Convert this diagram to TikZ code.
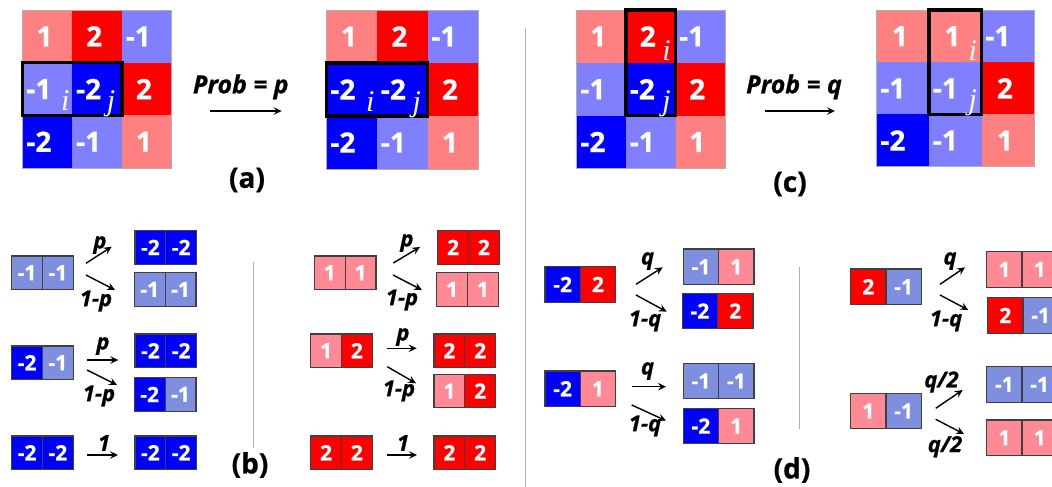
\documentclass[tikz,border=0pt]{standalone}
\usepackage{fontspec}
\setmainfont{Open Sans}[BoldFeatures={FakeBold=0.7},BoldItalicFeatures={FakeBold=0.7}]
\newfontfamily\sitefont{Liberation Serif}
\usetikzlibrary{positioning,calc,arrows.meta}
\definecolor{SpinRed}{RGB}{255,0,0}
\definecolor{SpinPink}{RGB}{255,128,128}
\definecolor{SpinBlue}{RGB}{0,0,255}
\definecolor{SpinLilac}{RGB}{128,128,255}
\definecolor{PairPink}{RGB}{255,138,150}
\definecolor{PairLilac}{RGB}{127,143,224}
\definecolor{EdgeGray}{RGB}{64,64,64}
\definecolor{RuleGray}{RGB}{175,175,175}
\tikzset{
	gcell/.style={inner sep=0pt,outer sep=0pt},
	gnum/.style={text=white,font=\fontsize{28}{28}\selectfont\bfseries,inner sep=0pt},
	gframe/.style={draw=RuleGray,line width=0.8pt},
	hbox/.style={draw=black,line width=3.5pt},
	site/.style={text=white,font=\fontsize{30}{30}\selectfont\sitefont\itshape,inner sep=0pt,anchor=base},
	bcell/.style={draw=EdgeGray,line width=1.2pt,text=white,outer sep=0pt,inner sep=0pt,
		minimum width=30.8pt,minimum height=33.4pt,font=\fontsize{21}{21}\selectfont\bfseries},
	dcell/.style={bcell,minimum width=35.3pt,minimum height=35.4pt},
	trans/.style={-{Stealth[length=8pt,width=7.5pt,inset=3pt]},line width=1.4pt},
	rate/.style={font=\fontsize{22}{22}\selectfont\bfseries\itshape,inner sep=0pt},
	prob/.style={font=\fontsize{25}{25}\selectfont\bfseries\itshape,inner sep=0pt,anchor=base},
	panel/.style={font=\fontsize{28}{28}\selectfont\bfseries,inner sep=0pt},
	divider/.style={draw=RuleGray,line width=1pt},
}
% 3x3 grid: name, x0, y0, cell width, cell height, col/row/colour/value
\newcommand\mgrid[6]{%
	\foreach \cx/\ry/\col/\val in {#6} {
		\node[gcell,fill=\col,minimum width=#4,minimum height=#5,anchor=north west]
			(#1-\cx\ry) at ($(#2,#3)+(\cx*#4,\ry*#5)$) {};
		\ifnum\val<0
			\node[gnum,anchor=west] (#1-t\cx\ry) at ([xshift=3.5pt]#1-\cx\ry.west) {\val};
		\else
			\node[gnum] (#1-t\cx\ry) at ([xshift=-3pt]#1-\cx\ry.center) {\val};
		\fi
	}
	\draw[gframe] (#1-00.north west) rectangle (#1-22.south east);
}
% two neighbouring spins: style, name, x, y, colour/value left, colour/value right
\newcommand\pair[8]{%
	\node[#1,fill=#5,anchor=north west] (#2l) at (#3,#4) {#6};
	\node[#1,fill=#7,right=0pt of #2l] (#2r) {#8};
}

\begin{document}
\begin{tikzpicture}[x=1pt,y=-1pt]
	\useasboundingbox (0,0) rectangle (1052,487);
	% (a) bond update
	\mgrid{aL}{22.7}{10}{49.7}{52.7}{0/0/SpinPink/1, 1/0/SpinRed/2, 2/0/SpinLilac/-1,
		0/1/SpinLilac/-1, 1/1/SpinBlue/-2, 2/1/SpinRed/2,
		0/2/SpinBlue/-2, 1/2/SpinLilac/-1, 2/2/SpinPink/1}
	\draw[hbox] (aL-01.north west) rectangle (aL-11.south east);
	\node[site] (aL-i) at ([xshift=-7pt,yshift=5pt]aL-01.south east) {i};
	\node[site] (aL-j) at ([xshift=-11pt,yshift=5pt]aL-11.south east) {j};
	\mgrid{aR}{326.7}{10}{50.5}{53}{0/0/SpinPink/1, 1/0/SpinRed/2, 2/0/SpinLilac/-1,
		0/1/SpinBlue/-2, 1/1/SpinBlue/-2, 2/1/SpinRed/2,
		0/2/SpinBlue/-2, 1/2/SpinLilac/-1, 2/2/SpinPink/1}
	\draw[hbox] (aR-01.north west) rectangle (aR-11.south east);
	\node[site] (aR-i) at ([xshift=-7pt,yshift=5pt]aR-01.south east) {i};
	\node[site] (aR-j) at ([xshift=-11pt,yshift=5pt]aR-11.south east) {j};
	\node[prob] (pa) at (240.8,93.3) {Prob = p};
	\coordinate (pa-s) at (210,111);
	\coordinate (pa-e) at (281.7,111);
	\draw[trans] (pa-s) -- (pa-e);
	\node[panel] (lab-a) at (247,180) {(a)};

	% (c) site update
	\mgrid{cL}{576.7}{10}{49.4}{52.8}{0/0/SpinPink/1, 1/0/SpinRed/2, 2/0/SpinLilac/-1,
		0/1/SpinLilac/-1, 1/1/SpinBlue/-2, 2/1/SpinRed/2,
		0/2/SpinBlue/-2, 1/2/SpinLilac/-1, 2/2/SpinPink/1}
	\draw[hbox] (cL-10.north west) rectangle (cL-11.south east);
	\node[site] (cL-i) at ([xshift=-9pt,yshift=2pt]cL-10.south east) {i};
	\node[site] (cL-j) at ([xshift=-9pt,yshift=5pt]cL-11.south east) {j};
	\mgrid{cR}{876.7}{10}{52.5}{52.2}{0/0/SpinPink/1, 1/0/SpinPink/1, 2/0/SpinLilac/-1,
		0/1/SpinLilac/-1, 1/1/SpinLilac/-1, 2/1/SpinRed/2,
		0/2/SpinBlue/-2, 1/2/SpinLilac/-1, 2/2/SpinPink/1}
	\draw[hbox] (cR-10.north west) rectangle (cR-11.south east);
	\node[site] (cR-i) at ([xshift=-9pt,yshift=2pt]cR-10.south east) {i};
	\node[site] (cR-j) at ([xshift=-9pt,yshift=5pt]cR-11.south east) {j};
	\node[prob] (pc) at (794,93.3) {Prob = q};
	\coordinate (pc-s) at (765,111);
	\coordinate (pc-e) at (835,111);
	\draw[trans] (pc-s) -- (pc-e);
	\node[panel] (lab-c) at (790,184) {(c)};

	% dividers
	\draw[divider] (525,28) -- (525,487);
	\draw[divider] (253,262) -- (253,448);
	\draw[divider] (799.3,266.7) -- (799.3,429.3);

	% (b) pairs, negative and positive
	\pair{bcell}{bS1}{11.7}{256}{PairLilac}{-1}{PairLilac}{-1}
	\pair{bcell}{bT1a}{135}{230.7}{SpinBlue}{-2}{SpinBlue}{-2}
	\pair{bcell}{bT1b}{134.3}{272.7}{PairLilac}{-1}{PairLilac}{-1}
	\pair{bcell}{bS2}{11.7}{346}{SpinBlue}{-2}{PairLilac}{-1}
	\pair{bcell}{bT2a}{135}{334}{SpinBlue}{-2}{SpinBlue}{-2}
	\pair{bcell}{bT2b}{134.3}{377.7}{SpinBlue}{-2}{PairLilac}{-1}
	\pair{bcell}{bS3}{11.7}{436}{SpinBlue}{-2}{SpinBlue}{-2}
	\pair{bcell}{bT3}{135}{436}{SpinBlue}{-2}{SpinBlue}{-2}
	\pair{bcell}{rS1}{314.3}{256}{PairPink}{1}{PairPink}{1}
	\pair{bcell}{rT1a}{437.7}{230.7}{SpinRed}{2}{SpinRed}{2}
	\pair{bcell}{rT1b}{436.7}{272.7}{PairPink}{1}{PairPink}{1}
	\pair{bcell}{rS2}{310.7}{334}{PairPink}{1}{SpinRed}{2}
	\pair{bcell}{rT2a}{434}{334}{SpinRed}{2}{SpinRed}{2}
	\pair{bcell}{rT2b}{434}{374.3}{PairPink}{1}{SpinRed}{2}
	\pair{bcell}{rS3}{310.7}{436}{SpinRed}{2}{SpinRed}{2}
	\pair{bcell}{rT3}{434}{436}{SpinRed}{2}{SpinRed}{2}
	\node[panel] (lab-b) at (250,465) {(b)};

	% (d) pairs, mixed signs
	\pair{dcell}{cS1}{545}{266.7}{SpinBlue}{-2}{SpinRed}{2}
	\pair{dcell}{cT1a}{683.3}{249}{PairLilac}{-1}{PairPink}{1}
	\pair{dcell}{cT1b}{682.3}{293.3}{SpinBlue}{-2}{SpinRed}{2}
	\pair{dcell}{cS2}{545}{371}{SpinBlue}{-2}{PairPink}{1}
	\pair{dcell}{cT2a}{683.3}{363.3}{PairLilac}{-1}{PairLilac}{-1}
	\pair{dcell}{cT2b}{683.3}{408.3}{SpinBlue}{-2}{PairPink}{1}
	\pair{dcell}{dS1}{850.7}{269}{SpinRed}{2}{PairLilac}{-1}
	\pair{dcell}{dT1a}{986.7}{251.7}{PairPink}{1}{PairPink}{1}
	\pair{dcell}{dT1b}{987.7}{297.7}{SpinRed}{2}{PairLilac}{-1}
	\pair{dcell}{dS2}{850.7}{393.3}{PairPink}{1}{PairLilac}{-1}
	\pair{dcell}{dT2a}{986.7}{366.7}{PairLilac}{-1}{PairLilac}{-1}
	\pair{dcell}{dT2b}{986.7}{420}{PairPink}{1}{PairPink}{1}
	\node[panel] (lab-d) at (792,470) {(d)};

	% transition arrows and their rates
	\foreach \n/\xa/\ya/\xb/\yb in {
		b1u/86/263.3/111.7/246.7, b1d/86/275/115/290, b2h/87.3/360/118.3/360,
		b2d/87/370/117/385, b3h/87/455/118/455,
		r1u/393.3/263/420/247, r1d/393/275/422/290, r2h/387.3/348.3/416.7/348.3,
		r2d/387.3/366.7/416/383.3, r3h/387/455/417/455,
		c1u/636/284.3/662.7/267.3, c1d/636/295/666.7/311.7, c2h/631.7/386.7/666/386.7,
		c2d/631.7/405/666/420.7,
		d1u/940/284.3/965/267.3, d1d/940/295/968.3/310, d2u/935.7/408.3/962.7/390,
		d2d/935.7/419.3/964/434} {
		\coordinate (\n-s) at (\xa,\ya);
		\coordinate (\n-e) at (\xb,\yb);
		\draw[trans] (\n-s) -- (\n-e);
	}
	\foreach \n/\x/\y/\t in {b1u/100/245/p, b1d/96/301/1-p, b2h/103/346/p, b2d/99/396/1-p,
		b3h/104/443/1, r1u/407/243/p, r1d/402/300/1-p, r2h/403/337/p, r2d/399/391/1-p,
		r3h/403/443/1, c1u/647.5/261/q, c1d/645/321/1-q, c2h/647.5/371/q, c2d/645/426/1-q,
		d1u/950/261/q, d1d/946/321/1-q}
		\node[rate] (\n-lab) at (\x,\y) {\t};
	\node[rate] (d2u-lab) at (941.5,382) {q/2};
	\node[rate] (d2d-lab) at (945,446.7) {q/2};
\end{tikzpicture}
\end{document}
